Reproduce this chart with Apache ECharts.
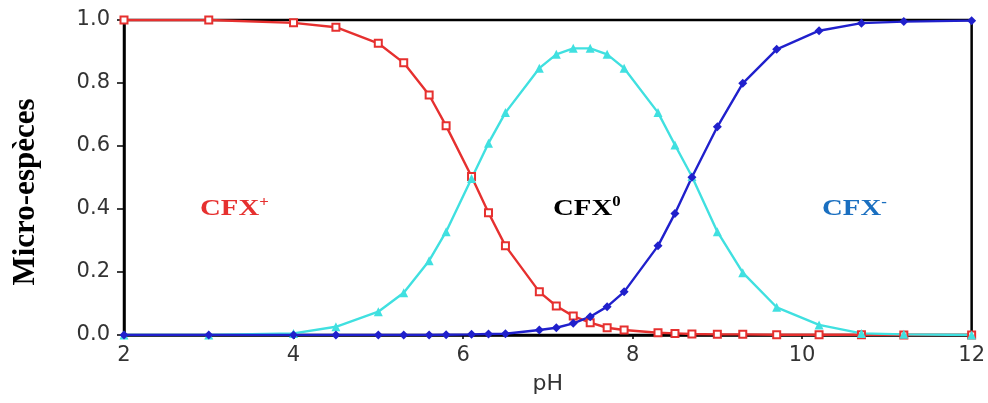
<!DOCTYPE html>
<html><head><meta charset="utf-8">
<script src="https://cdn.jsdelivr.net/npm/echarts@6/dist/echarts.min.js"></script>
<style>html,body{margin:0;padding:0;background:#fff}#c{width:988px;height:403px}</style>
</head><body><div id="c"></div>
<script>
const ph = [2,3,4,4.5,5,5.3,5.6,5.8,6.1,6.3,6.5,6.9,7.1,7.3,7.5,7.7,7.9,8.3,8.5,8.7,9.0,9.3,9.7,10.2,10.7,11.2,12];
const cfxPlus = [1.0,1.0,0.991,0.977,0.926,0.864,0.762,0.664,0.503,0.388,0.283,0.137,0.092,0.060,0.039,0.023,0.016,0.007,0.005,0.003,0.002,0.002,0.001,0.001,0.001,0.0,0.0];
const cfxZero = [0,0,0.005,0.026,0.074,0.134,0.236,0.328,0.497,0.609,0.706,0.847,0.891,0.910,0.910,0.891,0.847,0.706,0.603,0.503,0.328,0.198,0.088,0.032,0.005,0.002,0.0];
const cfxMinus = [0,0,0,0,0,0,0,0.001,0.002,0.003,0.004,0.016,0.023,0.037,0.058,0.090,0.137,0.283,0.386,0.501,0.661,0.799,0.907,0.966,0.990,0.995,0.998];
const xTicks = {min: 2, max: 12, interval: 2};
const yTicks = {min: 0, max: 1, interval: 0.2};

const pair = (xs, ys) => xs.map((x, i) => [x, ys[i]]);
const RED = '#e6302f', CYAN = '#40e0e0', BLUE = '#2020cc', LBLUE = '#1a6fc0';
const serif = 'Liberation Serif';
function lab(x, main, sup, color) {
  return {
    type: 'text', x: x, y: 209,
    style: {
      text: '{a|' + main + '}{b|' + sup + '}',
      textVerticalAlign: 'middle',
      rich: {
        a: {fontFamily: serif, fontWeight: 'bold', fontSize: 24, fill: color, lineHeight: 28},
        b: {fontFamily: serif, fontWeight: 'bold', fontSize: 14, fill: color, verticalAlign: 'top', lineHeight: 28}
      }
    },
    scaleX: 1.2
  };
}
const chart = echarts.init(document.getElementById('c'));
chart.setOption({
  animation: false,
  grid: {left: 124, right: 16, top: 20, bottom: 68, show: true, borderColor: '#000', borderWidth: 2.5, backgroundColor: 'transparent'},
  xAxis: {
    type: 'value', min: xTicks.min, max: xTicks.max, interval: xTicks.interval,
    name: 'pH', nameLocation: 'middle', nameGap: 38,
    nameTextStyle: {fontFamily: 'DejaVu Sans', fontSize: 22, color: '#333'},
    axisLine: {lineStyle: {color: '#000', width: 2.5}},
    axisTick: {show: true, length: 4, lineStyle: {color: '#000', width: 1.5}},
    axisLabel: {fontFamily: 'DejaVu Sans', fontSize: 21, color: '#333', margin: 10},
    splitLine: {show: false}
  },
  yAxis: {
    type: 'value', min: yTicks.min, max: yTicks.max, interval: yTicks.interval,
    axisLine: {show: true, lineStyle: {color: '#000', width: 2.5}},
    axisTick: {show: true, length: 7, lineStyle: {color: '#000', width: 1.5}},
    axisLabel: {fontFamily: 'DejaVu Sans', fontSize: 21, color: '#333', margin: 14, formatter: v => v.toFixed(1)},
    splitLine: {show: false}
  },
  series: [
    {type: 'line', data: pair(ph, cfxPlus), symbol: 'emptyRect', symbolSize: 7,
     lineStyle: {color: RED, width: 2.4}, itemStyle: {color: RED, borderWidth: 1.8}},
    {type: 'line', data: pair(ph, cfxZero), symbol: 'triangle', symbolSize: 9,
     lineStyle: {color: CYAN, width: 2.4}, itemStyle: {color: CYAN}},
    {type: 'line', data: pair(ph, cfxMinus), symbol: 'diamond', symbolSize: 9,
     lineStyle: {color: BLUE, width: 2.4}, itemStyle: {color: BLUE}}
  ],
  graphic: [
    {type: 'text', x: 26, y: 192, rotation: Math.PI / 2,
     style: {text: 'Micro-espèces', fontFamily: serif, fontWeight: 'bold', fontSize: 31, fill: '#000',
             textAlign: 'center', textVerticalAlign: 'middle'}},
    lab(200, 'CFX', '+', RED),
    lab(553, 'CFX', '0', '#000'),
    lab(822, 'CFX', '-', LBLUE)
  ]
});
</script></body></html>
